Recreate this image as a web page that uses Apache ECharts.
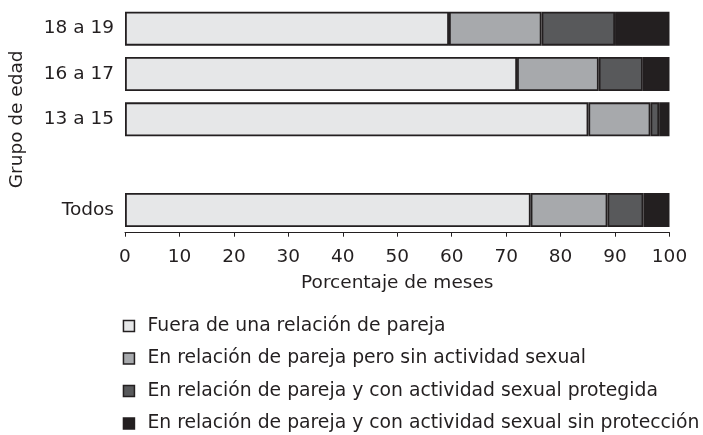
<!DOCTYPE html>
<html>
<head>
<meta charset="utf-8">
<script src="https://cdn.jsdelivr.net/npm/echarts@6/dist/echarts.min.js"></script>
<style>
html,body{margin:0;padding:0;background:#fff;}
#chart{width:703px;height:435px;}
</style>
</head>
<body>
<div id="chart"></div>
<script>
// Categories (bottom to top); blank slot separates "Todos" from age groups
const categories = ['Todos', '', '13 a 15', '16 a 17', '18 a 19'];
const seriesNames = [
  'Fuera de una relación de pareja',
  'En relación de pareja pero sin actividad sexual',
  'En relación de pareja y con actividad sexual protegida',
  'En relación de pareja y con actividad sexual sin protección'
];
const fueraRelacion   = [74.5, null, 85.1, 72.0, 59.5];
const sinActividad    = [14.1, null, 11.4, 15.0, 17.0];
const protegida       = [6.6,  null, 1.6,  8.1,  13.5];
const sinProteccion   = [4.8,  null, 1.9,  4.9,  10.0];
const xTicks = [0, 10, 20, 30, 40, 50, 60, 70, 80, 90, 100];

const colors = ['#e6e7e8', '#a7a9ac', '#58595b', '#231f20'];
const values = [fueraRelacion, sinActividad, protegida, sinProteccion];
const font = 'DejaVu Sans';
const fs = 18.5;
const txt = '#231f20';

const chart = echarts.init(document.getElementById('chart'), null, {renderer: 'canvas'});
chart.setOption({
  animation: false,
  backgroundColor: '#ffffff',
  grid: {left: 125, right: 33.5, top: 6, bottom: 202.3, containLabel: false},
  xAxis: {
    type: 'value',
    min: xTicks[0],
    max: xTicks[xTicks.length - 1],
    interval: 10,
    name: 'Porcentaje de meses',
    nameLocation: 'middle',
    nameGap: 41,
    nameTextStyle: {fontFamily: font, fontSize: fs, color: txt},
    axisLine: {show: true, lineStyle: {color: txt, width: 1}},
    axisTick: {show: true, length: 4, inside: false, lineStyle: {color: txt, width: 1}},
    axisLabel: {fontFamily: font, fontSize: fs, color: txt, margin: 15},
    splitLine: {show: false}
  },
  yAxis: {
    type: 'category',
    data: categories,
    name: 'Grupo de edad',
    nameLocation: 'middle',
    nameRotate: 90,
    nameGap: 98,
    nameTextStyle: {fontFamily: font, fontSize: fs, color: txt},
    axisLine: {show: false},
    axisTick: {show: false},
    axisLabel: {fontFamily: font, fontSize: fs, color: txt, margin: 11},
    splitLine: {show: false}
  },
  legend: {
    orient: 'vertical',
    left: 122.7,
    top: 316,
    padding: 0,
    itemWidth: 11,
    itemHeight: 11,
    itemGap: 12.5,
    icon: 'rect',
    itemStyle: {borderColor: '#231f20', borderWidth: 1.5},
    textStyle: {fontFamily: font, fontSize: 18.8, color: txt, lineHeight: 20, padding: [0, 0, 0, 8]},
    data: seriesNames
  },
  series: seriesNames.map((name, i) => ({
    name: name,
    type: 'bar',
    stack: 'total',
    barWidth: 34,
    data: values[i],
    itemStyle: {color: colors[i], borderColor: '#231f20', borderWidth: 1.8},
    emphasis: {disabled: true}
  }))
});
</script>
</body>
</html>
